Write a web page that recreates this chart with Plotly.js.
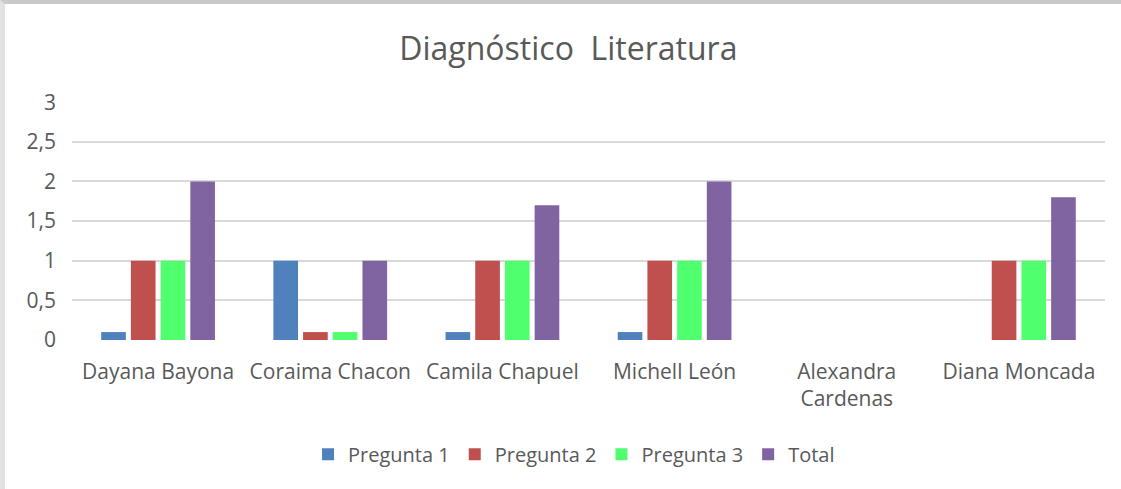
<!DOCTYPE html>
<html>
<head>
<meta charset="utf-8">
<script src="https://cdn.plot.ly/plotly-3.0.1.min.js"></script>
<style>
  html, body { margin: 0; padding: 0; background: #fff; }
  #frame {
    position: absolute; left: 0; top: 0; width: 1121px; height: 489px;
    box-sizing: border-box;
    border-top: 4px solid #c9c9c9;
    border-left: 5px solid #e2e2e2;
  }
  #chart { position: absolute; left: 0; top: 0; width: 1121px; height: 489px; }
</style>
</head>
<body>
<div id="frame"></div>
<div id="chart"></div>
<script>
const students = ['Dayana Bayona', 'Coraima Chacon', 'Camila Chapuel', 'Michell León', 'Alexandra<br>Cardenas', 'Diana Moncada'];
const pregunta1 = [0.1, 1, 0.1, 0.1, 0, 0];
const pregunta2 = [1, 0.1, 1, 1, 0, 1];
const pregunta3 = [1, 0.1, 1, 1, 0, 1];
const total = [2, 1, 1.7, 2, 0, 1.8];

const textColor = '#595959';

// one bar trace per question, plus the total
const plot_data = [
  {x: students, y: pregunta1, type: 'bar', name: 'Pregunta 1', marker: {color: '#4F81BD'}},
  {x: students, y: pregunta2, type: 'bar', name: 'Pregunta 2', marker: {color: '#C0504D'}},
  {x: students, y: pregunta3, type: 'bar', name: 'Pregunta 3', marker: {color: '#50FF6E'}},
  {x: students, y: total, type: 'bar', name: 'Total', marker: {color: '#8064A2'}}
];

const layout = {
  width: 1121,
  height: 489,
  paper_bgcolor: 'rgba(0,0,0,0)',
  plot_bgcolor: 'rgba(0,0,0,0)',
  font: {family: '"Open Sans", sans-serif', size: 21, color: textColor},
  title: {
    text: 'Diagnóstico\u00a0 Literatura',
    font: {size: 32, color: textColor},
    x: 0.507, xanchor: 'center',
    y: 0.9, yanchor: 'middle'
  },
  margin: {l: 72, r: 16, t: 102, b: 149},
  barmode: 'group',
  bargap: 0.31,
  bargroupgap: 0.17,
  xaxis: {
    showgrid: false,
    showline: false,
    ticks: '',
    ticklabelstandoff: 17,
    tickfont: {size: 21, color: textColor}
  },
  yaxis: {
    range: [0, 3.002],
    dtick: 0.5,
    tickformat: '.1~f',
    gridcolor: '#d9d9d9',
    gridwidth: 1.5,
    zeroline: false,
    showline: false,
    ticks: '',
    ticklabelstandoff: 15,
    tickfont: {size: 21, color: textColor}
  },
  separators: ',.',
  showlegend: true,
  legend: {
    orientation: 'h',
    x: 0.486, xanchor: 'center',
    y: -0.48, yanchor: 'middle',
    font: {size: 20, color: textColor},
    itemwidth: 30
  }
};

Plotly.newPlot('chart', plot_data, layout, {displayModeBar: false});
</script>
</body>
</html>
